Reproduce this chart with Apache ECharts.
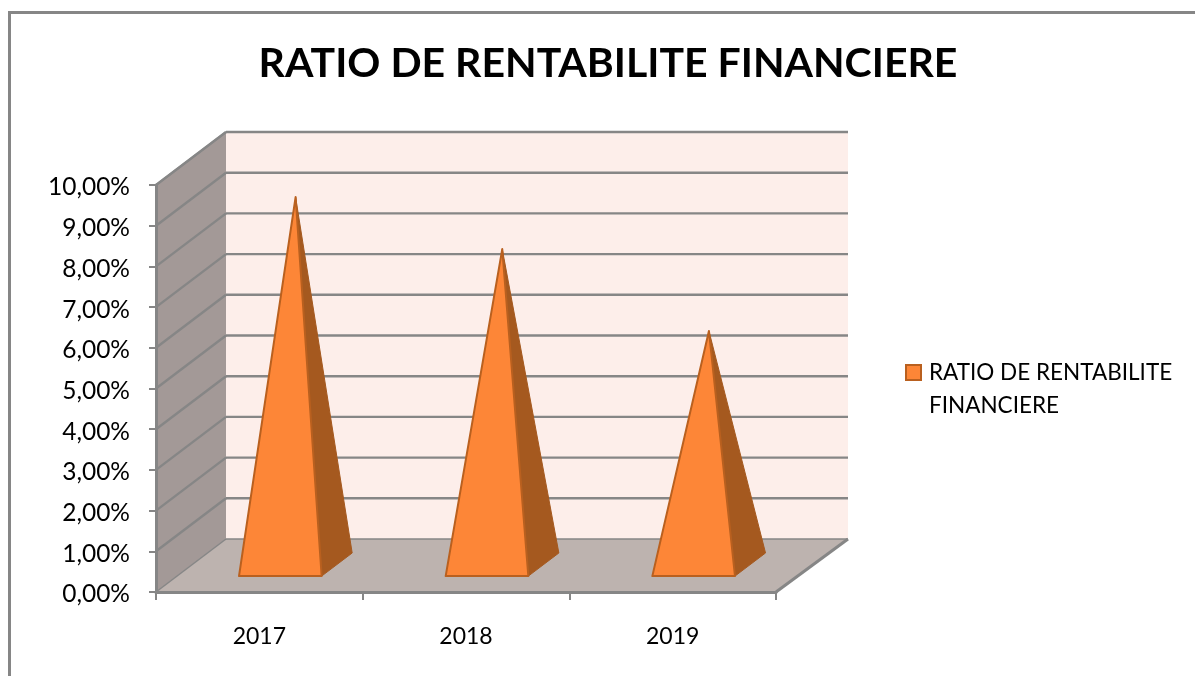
<!DOCTYPE html>
<html>
<head>
<meta charset="utf-8">
<style>html,body{margin:0;padding:0;background:#fff}#c{width:1195px;height:676px}</style>
<script src="https://cdn.jsdelivr.net/npm/echarts@6/dist/echarts.min.js"></script>
</head>
<body>
<div id="c"></div>
<script>
var titleText = 'RATIO DE RENTABILITE FINANCIERE';
var seriesName = 'RATIO DE RENTABILITE FINANCIERE';
var categories = ['2017', '2018', '2019'];
var ratioValues = [0.0903, 0.0775, 0.0574];
var yTicks = [0, 0.01, 0.02, 0.03, 0.04, 0.05, 0.06, 0.07, 0.08, 0.09, 0.1];

var DX = 70, DY = -53;            // oblique depth vector of the 3D box
var BACK_EXTRA = 2;               // back wall is slightly wider than the front edge
var D0 = 0.30, D1 = 0.736;        // pyramid base depth range (fraction of box depth)
var HALF = 0.2;                   // half pyramid width, in category bands
var GRAY = '#868686';

function deep(p, d) { return [p[0] + DX * d, p[1] + DY * d]; }
function deepR(p) { return [p[0] + DX + BACK_EXTRA, p[1] + DY]; }
function seg(a, b, w, c) {
  return { type: 'line', shape: { x1: a[0], y1: a[1], x2: b[0], y2: b[1] }, style: { stroke: c || GRAY, lineWidth: w } };
}
function poly(pts, fill, stroke, w) {
  return { type: 'polygon', shape: { points: pts }, style: { fill: fill, stroke: stroke || null, lineWidth: w || 0, lineJoin: 'round' } };
}
// left / right edge of the category axis at value v
function edges(api, v) {
  var band = api.size([1, 0])[0];
  var a = api.coord([0, v]), b = api.coord([categories.length - 1, v]);
  return [[a[0] - band / 2, a[1]], [b[0] + band / 2, b[1]]];
}

function renderWalls(params, api) {
  var yMax = yTicks[yTicks.length - 1];
  var e0 = edges(api, 0), e1 = edges(api, yMax);
  var bl = e0[0], br = e0[1], tl = e1[0], tr = e1[1];
  return { type: 'group', children: [
    poly([bl, tl, deep(tl, 1), deep(bl, 1)], '#a39997'),
    poly([deep(bl, 1), deep(tl, 1), deepR(tr), deepR(br)], '#fdeeea'),
    poly([bl, br, deepR(br), deep(bl, 1)], '#bdb3af'),
    seg(br, deepR(br), 3),
    seg(deep(bl, 1), bl, 1.5),
    seg(deep(bl, 1), deepR(br), 1.5),
    seg(tl, deep(tl, 1), 2)
  ] };
}
function renderGrid(params, api) {
  var e = edges(api, yTicks[params.dataIndex + 1]);
  return { type: 'group', children: [
    seg(e[0], deep(e[0], 1), 2.4),
    seg(deep(e[0], 1), deepR(e[1]), 2.4)
  ] };
}
function renderPyramid(params, api) {
  var i = api.value(0), v = api.value(1);
  var band = api.size([1, 0])[0];
  var base = api.coord([i, 0]);
  var top = api.coord([i, v]);
  var fl = deep([base[0] - band * HALF, base[1]], D0);
  var fr = deep([base[0] + band * HALF, base[1]], D0);
  var br = deep([base[0] + band * HALF, base[1]], D1);
  var apex = deep(top, (D0 + D1) / 2);
  return { type: 'group', children: [
    poly([fr, br, apex], '#a5591f', '#a5591f', 1),
    poly([fl, fr, apex], '#fd8637', '#b9601f', 2)
  ] };
}

var chart = echarts.init(document.getElementById('c'), null, { renderer: 'canvas' });
chart.setOption({
  animation: false,
  backgroundColor: '#ffffff',
  textStyle: { fontFamily: 'Lato' },
  title: {
    text: titleText, left: 603, top: 38, textAlign: 'center',
    textStyle: { fontFamily: 'Lato', fontWeight: 'bold', fontSize: 41, color: '#000' }
  },
  graphic: [{
    type: 'rect', silent: true, z: 0,
    shape: { x: 9.5, y: 12.5, width: 1300, height: 800 },
    style: { fill: 'none', stroke: GRAY, lineWidth: 3 }
  }],
  legend: {
    data: [{ name: seriesName, icon: 'rect', itemStyle: { color: '#fd8637', borderColor: '#b9601f', borderWidth: 2 } }],
    left: 905, top: 323, padding: 0, itemWidth: 15, itemHeight: 15, itemGap: 0,
    formatter: function () { return '\nRATIO DE RENTABILITE\nFINANCIERE'; },
    textStyle: { fontFamily: 'Lato', fontSize: 22.5, lineHeight: 33, color: '#000', padding: [0, 0, 0, 3] }
  },
  grid: { left: 156, top: 185, width: 620, height: 407, containLabel: false },
  xAxis: {
    type: 'category', data: categories, boundaryGap: true,
    axisLine: { lineStyle: { color: GRAY, width: 3 } },
    axisTick: { show: true, length: 8, lineStyle: { color: GRAY, width: 2 } },
    axisLabel: { color: '#000', fontFamily: 'Lato', fontSize: 23, margin: 33 },
    z: 5
  },
  yAxis: {
    type: 'value', min: 0, max: 0.1, interval: 0.01,
    axisLine: { show: true, lineStyle: { color: GRAY, width: 3 } },
    axisTick: { show: true, length: 7, lineStyle: { color: GRAY, width: 2 } },
    axisLabel: {
      color: '#000', margin: 26,
      formatter: function (v) { return '{a|' + (v * 100).toFixed(2).replace('.', ',') + '%}'; },
      rich: { a: { fontFamily: 'Lato', fontSize: 24.5, color: '#000', padding: [5, 0, 0, 0] } }
    },
    splitLine: { show: false },
    z: 5
  },
  series: [
    { type: 'custom', name: 'walls', silent: true, z: 1, renderItem: renderWalls, data: [0], encode: { x: -1, y: -1 }, tooltip: { show: false } },
    { type: 'custom', name: 'grid', silent: true, z: 2, renderItem: renderGrid, data: yTicks.slice(1), encode: { x: -1, y: -1 }, tooltip: { show: false } },
    {
      type: 'custom', name: seriesName, z: 3, renderItem: renderPyramid,
      itemStyle: { color: '#fd8637' },
      encode: { x: 0, y: 1 },
      data: ratioValues.map(function (v, i) { return [i, v]; })
    }
  ]
});
</script>
</body>
</html>
